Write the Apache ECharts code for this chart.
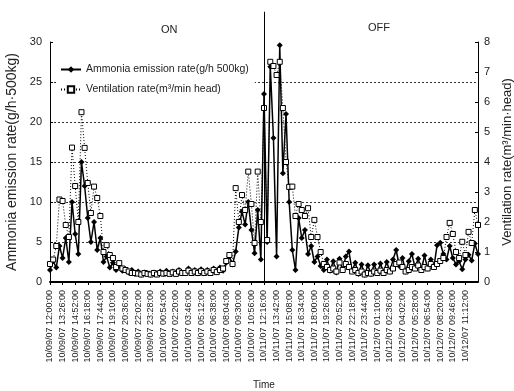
<!DOCTYPE html>
<html>
<head>
<meta charset="utf-8">
<script src="https://cdn.jsdelivr.net/npm/echarts@6/dist/echarts.min.js"></script>
<style>
  html, body { margin: 0; padding: 0; background: #fff; }
  #chart { width: 514px; height: 391px; }
</style>
</head>
<body>
<div id="chart"></div>
<script>
// tick labels shown on the time axis (one every 4 samples)
const tickLabels = [
  '10/09/07 12:00:00', '10/09/07 13:26:00', '10/09/07 14:52:00', '10/09/07 16:18:00',
  '10/09/07 17:44:00', '10/09/07 19:10:00', '10/09/07 20:36:00', '10/09/07 22:02:00',
  '10/09/07 23:28:00', '10/10/07 00:54:00', '10/10/07 02:20:00', '10/10/07 03:46:00',
  '10/10/07 05:12:00', '10/10/07 06:38:00', '10/10/07 08:04:00', '10/10/07 09:30:00',
  '10/10/07 10:56:00', '10/11/07 12:16:00', '10/11/07 13:42:00', '10/11/07 15:08:00',
  '10/11/07 16:34:00', '10/11/07 18:00:00', '10/11/07 19:26:00', '10/11/07 20:52:00',
  '10/11/07 22:18:00', '10/11/07 23:44:00', '10/12/07 01:10:00', '10/12/07 02:36:00',
  '10/12/07 04:02:00', '10/12/07 05:28:00', '10/12/07 06:54:00', '10/12/07 08:20:00',
  '10/12/07 09:46:00', '10/12/07 11:12:00'
]

// g/h·500kg
const ammonia = [
  1.5, 2.6, 1.8, 4.5, 3.0, 5.5, 2.5, 10, 6, 3.5,
  15, 12, 8, 5, 7.5, 4, 5.5, 2.5, 3.2, 1.8,
  2.4, 1.5, 2.0, 1.4, 1.6, 1.2, 1.5, 1.0, 1.3, 0.9,
  1.2, 1.1, 0.9, 1.2, 1.0, 1.3, 1.0, 1.4, 1.1, 1.3,
  1.0, 1.5, 1.1, 1.2, 1.7, 1.2, 1.5, 1.1, 1.6, 1.2,
  1.5, 1.1, 1.7, 1.3, 1.8, 1.4, 2.4, 3.2, 2.2, 3.8,
  6.8, 8.8, 7.2, 10, 6.5, 3.6, 9, 2.8, 23.5, 5,
  26.9, 18, 3.2, 29.6, 13.6, 21, 10, 4, 1.5, 8,
  5.5, 6.5, 3.5, 4.5, 2.5, 3.2, 2.0, 1.5, 2.8, 1.4,
  2.6, 1.2, 2.9, 1.5, 3.2, 3.8, 1.4, 2.4, 1.0, 2.2,
  0.9, 2.1, 1.0, 2.2, 1.1, 2.3, 1.2, 2.5, 1.3, 2.8,
  4.0, 2.0, 3.0, 1.3, 2.6, 3.5, 1.8, 2.9, 1.5, 3.3,
  1.7, 2.8, 1.9, 4.6, 4.9, 3.5, 2.8, 4.5, 3.0, 2.2,
  2.6, 1.6, 2.8, 3.4, 2.7, 4.8, 3.5
]

// m³/min·head
const ventilation = [
  0.6, 0.75, 1.2, 2.75, 2.7, 1.9, 1.5, 4.48, 3.2, 2.0,
  5.66, 4.47, 3.3, 2.3, 3.18, 2.8, 2.2, 1.0, 1.23, 0.9,
  0.8, 0.5, 0.63, 0.45, 0.4, 0.35, 0.3, 0.3, 0.28, 0.25,
  0.3, 0.27, 0.25, 0.3, 0.25, 0.3, 0.28, 0.3, 0.27, 0.32,
  0.27, 0.35, 0.3, 0.3, 0.38, 0.3, 0.35, 0.3, 0.36, 0.3,
  0.35, 0.3, 0.4, 0.33, 0.4, 0.45, 0.7, 0.9, 0.6, 3.13,
  2.0, 2.9, 2.4, 3.68, 2.6, 1.3, 3.68, 2.0, 5.8, 1.4,
  7.34, 7.2, 6.9, 7.34, 5.8, 4.0, 3.17, 3.18, 2.2, 2.6,
  2.4, 2.2, 2.46, 1.5, 2.07, 1.5, 1.0, 0.6, 0.5, 0.4,
  0.45, 0.35, 0.65, 0.4, 0.6, 0.5, 0.35, 0.4, 0.3, 0.35,
  0.25, 0.3, 0.28, 0.35, 0.3, 0.38, 0.3, 0.4, 0.35, 0.45,
  0.6, 0.65, 0.5, 0.35, 0.4, 0.5, 0.45, 0.55, 0.4, 0.5,
  0.45, 0.6, 0.5, 0.6, 0.7, 0.8, 1.5, 1.97, 1.6, 1.0,
  0.8, 1.34, 0.9, 1.67, 1.3, 2.4, 1.9
]

const perTick = 4
const offStart = 68 // first sample after fan switched off

const categories = ammonia.map((_, i) =>
  i % perTick === 0 && i / perTick < tickLabels.length ? tickLabels[i / perTick] : ''
)
const showTick = (i) => i % perTick === 0 && i / perTick < tickLabels.length

const font = 'Liberation Sans, Arial, sans-serif'
const ink = '#222'

const chart = echarts.init(document.getElementById('chart'), null, { renderer: 'canvas' })

chart.setOption({
  backgroundColor: '#fff',
  animation: false,
  textStyle: { fontFamily: font, color: ink },
  title: [
    { text: 'ON', left: 161, top: 24, padding: 0, textStyle: { fontSize: 11, fontWeight: 'normal', color: ink, fontFamily: font } },
    { text: 'OFF', left: 368, top: 22, padding: 0, textStyle: { fontSize: 11, fontWeight: 'normal', color: ink, fontFamily: font } }
  ],
  legend: {
    orient: 'vertical',
    left: 56,
    top: 60,
    itemGap: 9,
    itemWidth: 20,
    itemHeight: 8,
    padding: [4, 6, 4, 4],
    backgroundColor: '#fff',
    textStyle: { fontSize: 10.5, color: ink, fontFamily: font },
    data: [
      { name: 'Ammonia emission rate(g/h 500kg)' },
      { name: 'Ventilation rate(m³/min head)' }
    ]
  },
  grid: { left: 50, right: 36, top: 42, bottom: 109, outerBoundsMode: 'none' },
  xAxis: {
    type: 'category',
    data: categories,
    boundaryGap: false,
    name: 'Time',
    nameLocation: 'middle',
    nameGap: 98,
    nameTextStyle: { fontSize: 10, color: ink },
    axisLine: { lineStyle: { color: '#000', width: 2 } },
    axisTick: { show: true, interval: showTick, length: 3, lineStyle: { color: '#000' } },
    axisLabel: { interval: showTick, rotate: 90, fontSize: 9, margin: 8, color: ink },
    splitLine: { show: false }
  },
  yAxis: [
    {
      type: 'value',
      min: 0, max: 30, interval: 5,
      name: 'Ammonia emission rate(g/h·500kg)',
      nameLocation: 'middle',
      nameGap: 29,
      nameRotate: 90,
      nameTextStyle: { fontSize: 14, color: ink },
      axisLine: { show: true, lineStyle: { color: '#000' } },
      axisTick: { show: true, inside: true, length: 3, lineStyle: { color: '#000' } },
      axisLabel: { fontSize: 11, margin: 8, color: ink },
      splitLine: {
        show: true,
        lineStyle: {
          color: ['transparent', '#333', '#333', '#333', '#333', '#333', 'transparent'],
          type: [2, 2],
          width: 1
        }
      }
    },
    {
      type: 'value',
      min: 0, max: 8, interval: 1,
      position: 'right',
      name: 'Ventilation rate(m³/min·head)',
      nameLocation: 'middle',
      nameGap: 21,
      nameRotate: 90,
      nameTextStyle: { fontSize: 13, color: ink },
      axisLine: { show: true, lineStyle: { color: '#000' } },
      axisTick: { show: true, inside: true, length: 3, lineStyle: { color: '#000' } },
      axisLabel: { fontSize: 11, margin: 6, color: ink },
      splitLine: { show: false }
    }
  ],
  series: [
    {
      name: 'Ammonia emission rate(g/h 500kg)',
      type: 'line',
      yAxisIndex: 0,
      data: ammonia,
      symbol: 'diamond',
      symbolSize: 6,
      showAllSymbol: true,
      lineStyle: { color: '#000', width: 1.5 },
      itemStyle: { color: '#000' },
      markLine: {
        silent: true,
        symbol: 'none',
        label: { show: false },
        lineStyle: { color: '#000', type: 'solid', width: 1 },
        data: [[{ xAxis: offStart, yAxis: 0 }, { xAxis: offStart, yAxis: 30, y: '3%' }]]
      }
    },
    {
      name: 'Ventilation rate(m³/min head)',
      type: 'line',
      yAxisIndex: 1,
      data: ventilation,
      symbol: 'rect',
      symbolSize: 5,
      showAllSymbol: true,
      lineStyle: { color: '#000', width: 1, type: [1, 2] },
      itemStyle: { color: '#fff', borderColor: '#000', borderWidth: 1 }
    }
  ]
})
</script>
</body>
</html>
